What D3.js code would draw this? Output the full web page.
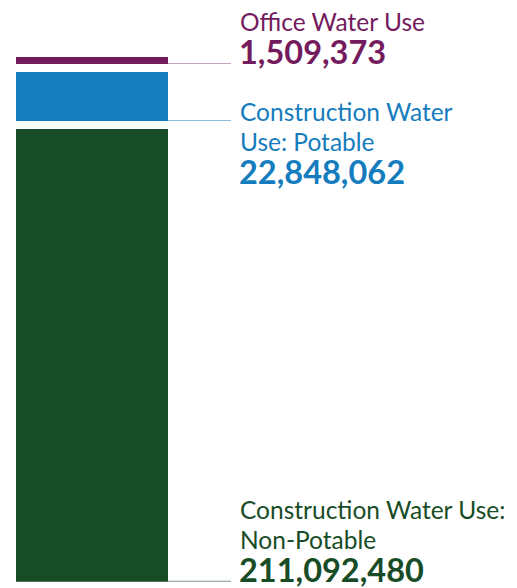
<!DOCTYPE html>
<html>
<head>
<meta charset="utf-8">
<script src="https://cdn.jsdelivr.net/npm/d3@7"></script>
<style>
  body { margin: 0; background: #fff; }
  svg { display: block; font-family: Lato, 'Open Sans', sans-serif; }
</style>
</head>
<body>
<div id="chart"></div>
<script>
// data
var categories = ['Office Water Use', 'Construction Water Use: Potable', 'Construction Water Use: Non-Potable']
var labelLines = [['Office Water Use'], ['Construction Water', 'Use: Potable'], ['Construction Water Use:', 'Non-Potable']]
var values = [1509373, 22848062, 211092480]
var colors = ['#741b5d', '#157cbe', '#184c26']
var lineColors = ['#c9a3c0', '#8fbfdf', '#7f9a85']

var width = 517, height = 588
var barX = 16, barW = 152, barTop = 57, gap = 8, minH = 7
var labelX = 240

var svg = d3.select('#chart').append('svg')
  .attr('width', width)
  .attr('height', height)

var y = d3.scaleLinear()
  .domain([0, d3.sum(values)])
  .range([0, 505])

// stack the segments from the top with gaps
var segs = []
var cur = barTop
values.forEach(function (v, i) {
  var h = Math.max(minH, y(v))
  segs.push({ i: i, v: v, y0: cur, y1: cur + h })
  cur += h + gap
})

// leader lines
svg.selectAll('line.leader').data(segs).enter().append('line')
  .attr('class', 'leader')
  .attr('x1', barX + barW)
  .attr('x2', labelX - 9)
  .attr('y1', function (d) { return d.y1 - 0.5 })
  .attr('y2', function (d) { return d.y1 - 0.5 })
  .attr('stroke', function (d) { return lineColors[d.i] })
  .attr('stroke-width', 1)

svg.selectAll('rect.seg').data(segs).enter().append('rect')
  .attr('class', 'seg')
  .attr('x', barX)
  .attr('y', function (d) { return d.y0 })
  .attr('width', barW)
  .attr('height', function (d) { return d.y1 - d.y0 })
  .attr('fill', function (d) { return colors[d.i] })

var fmt = d3.format(',')
var lineH = 30, numGap = 33

// labels: first and last segment end at bar bottom, middle one starts there
segs.forEach(function (d) {
  var lines = labelLines[d.i]
  var nLines = lines.length
  var firstBase
  if (d.i === 1) firstBase = d.y1
  else firstBase = d.y1 - numGap - (nLines - 1) * lineH
  var g = svg.append('g').attr('fill', colors[d.i])
  lines.forEach(function (t, k) {
    g.append('text')
      .attr('x', labelX)
      .attr('y', firstBase + k * lineH)
      .attr('font-size', 24.5)
      .text(t)
  })
  g.append('text')
    .attr('x', labelX - 1)
    .attr('y', firstBase + (nLines - 1) * lineH + numGap)
    .attr('font-size', 32.5)
    .attr('font-weight', 700)
    .text(fmt(d.v))
})
</script>
</body>
</html>
